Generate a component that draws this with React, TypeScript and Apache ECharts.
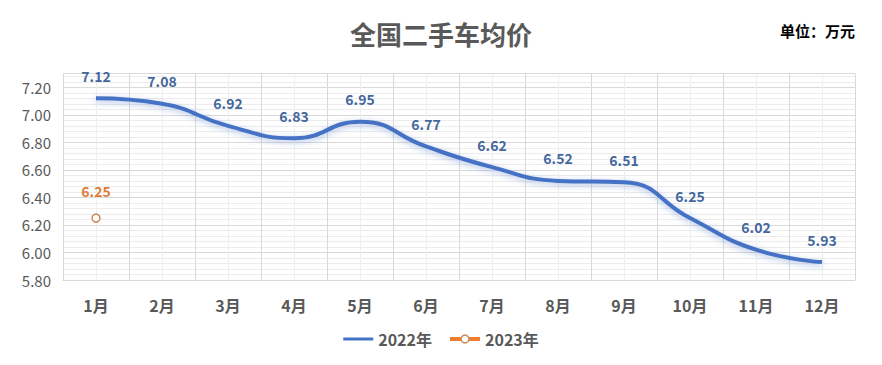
import React, { useEffect, useRef } from "react";
import * as echarts from "echarts";

const categories = ["1月", "2月", "3月", "4月", "5月", "6月", "7月", "8月", "9月", "10月", "11月", "12月"];
const values2022 = [7.12, 7.08, 6.92, 6.83, 6.95, 6.77, 6.62, 6.52, 6.51, 6.25, 6.02, 5.93];
const values2023: (number | null)[] = [6.25, null, null, null, null, null, null, null, null, null, null, null];
const yTicks = { min: 5.8, max: 7.3, interval: 0.2 };

const FONT = "'Noto Sans CJK SC', 'Noto Sans', sans-serif";

export default function App() {
  const ref = useRef<HTMLDivElement>(null);
  useEffect(() => {
    if (!ref.current) return;
    const chart = echarts.init(ref.current, null, { renderer: "svg" });
    chart.setOption({
      animation: false,
      backgroundColor: "#fff",
      textStyle: { fontFamily: FONT },
      title: [
        {
          text: "全国二手车均价",
          left: "center",
          top: 7,
          textStyle: { fontSize: 26, fontWeight: "bold", color: "#595959", fontFamily: FONT },
        },
        {
          text: "单位：万元",
          right: 14,
          top: 10,
          textStyle: { fontSize: 15, fontWeight: "bold", color: "#000", fontFamily: FONT },
        },
      ],
      legend: {
        bottom: 5,
        left: "center",
        itemWidth: 30,
        itemHeight: 10,
        itemGap: 16,
        textStyle: { fontSize: 16, fontWeight: "bold", color: "#595959", fontFamily: FONT },
        data: [
          {
            name: "2022年",
            icon: "path://M0,3.5 L30,3.5 L30,6.5 L0,6.5 Z",
            itemStyle: { color: "#4472C4", borderWidth: 0 },
          },
          {
            name: "2023年",
            itemStyle: { color: "#fff", borderColor: "#d08a58", borderWidth: 1.5 },
            lineStyle: { color: "#ED7D31", width: 4 },
          },
        ],
      },
      grid: { left: 55, right: 19, top: 65.5, bottom: 77 },
      xAxis: [
        {
          type: "category",
          data: categories,
          boundaryGap: true,
          axisLine: { show: true, lineStyle: { color: "#d9d9d9" } },
          axisTick: { show: false },
          axisLabel: { fontSize: 16, fontWeight: "bold", color: "#595959", margin: 17, fontFamily: FONT },
          splitLine: { show: false },
        },
        {
          type: "value",
          min: 0,
          max: 12,
          interval: 1,
          show: true,
          axisLine: { show: false },
          axisTick: { show: false },
          axisLabel: { show: false },
          splitLine: { show: true, lineStyle: { color: "#d9d9d9", width: 1 } },
          minorTick: { show: false, splitNumber: 2 },
          minorSplitLine: { show: true, lineStyle: { color: "#efefef", width: 1 } },
        },
      ],
      yAxis: {
        type: "value",
        min: yTicks.min,
        max: yTicks.max,
        interval: yTicks.interval,
        axisLine: { show: false },
        axisTick: { show: false },
        axisLabel: {
          fontSize: 15,
          color: "#595959",
          margin: 12,
          showMaxLabel: false,
          formatter: (v: number) => v.toFixed(2),
          fontFamily: FONT,
        },
        splitLine: { show: true, lineStyle: { color: "#d9d9d9", width: 1 } },
        minorTick: { show: false, splitNumber: 5 },
        minorSplitLine: { show: true, lineStyle: { color: "#ececec", width: 1 } },
      },
      series: [
        {
          name: "2022年",
          type: "line",
          xAxisIndex: 0,
          data: values2022,
          smooth: 0.5,
          symbol: "circle",
          symbolSize: 1,
          showSymbol: true,
          itemStyle: { color: "rgba(0,0,0,0)", borderWidth: 0 },
          color: "#4472C4",
          lineStyle: {
            width: 4,
            color: "#4472C4",
            shadowColor: "rgba(68,114,196,0.45)",
            shadowBlur: 6,
            shadowOffsetY: 2,
          },
          label: {
            show: true,
            position: "top",
            distance: 15,
            fontSize: 14,
            fontWeight: "bold",
            color: "#44679d",
            formatter: (p: any) => Number(p.value).toFixed(2),
            fontFamily: FONT,
          },
          z: 3,
        },
        {
          name: "2023年",
          type: "line",
          xAxisIndex: 0,
          data: values2023,
          symbol: "circle",
          symbolSize: 8,
          showSymbol: true,
          color: "#ED7D31",
          itemStyle: { color: "#fff", borderColor: "#d08a58", borderWidth: 1.5 },
          lineStyle: { width: 4, color: "#ED7D31" },
          label: {
            show: true,
            position: "top",
            distance: 15,
            fontSize: 14,
            fontWeight: "bold",
            color: "#e07b39",
            formatter: (p: any) => Number(p.value).toFixed(2),
            fontFamily: FONT,
          },
          z: 4,
        },
      ],
    });
    return () => chart.dispose();
  }, []);
  return <div ref={ref} style={{ width: 866, height: 349 }} />;
}
